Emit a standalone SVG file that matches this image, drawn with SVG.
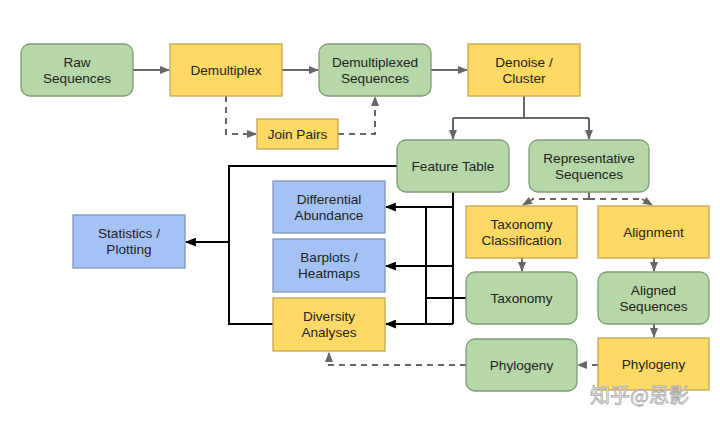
<svg xmlns="http://www.w3.org/2000/svg" width="720" height="426" viewBox="0 0 720 426">
<defs>
<style>
text{font-family:"Liberation Sans",Arial,sans-serif;font-size:13.6px;fill:#222;text-anchor:middle}
.g{fill:#b6d7a8;stroke:#7f9b73;stroke-width:1.3}
.y{fill:#ffd966;stroke:#c4a54e;stroke-width:1.3}
.b{fill:#a4c2f4;stroke:#7f95bc;stroke-width:1.3}
.gl{fill:none;stroke:#666;stroke-width:2}
.gd{fill:none;stroke:#666;stroke-width:2;stroke-dasharray:6,5}
.bl{fill:none;stroke:#000;stroke-width:2}
.wm{font-family:"Noto Sans CJK SC",sans-serif;font-size:20px;fill:#fff;stroke:#aaa;stroke-width:0.8;text-anchor:start}
</style>
<marker id="ag" viewBox="0 0 10 8" refX="9" refY="4" markerWidth="10" markerHeight="8" orient="auto" markerUnits="userSpaceOnUse"><path d="M0,0L10,4L0,8z" fill="#666"/></marker>
<marker id="ab" viewBox="0 0 10 8" refX="9" refY="4" markerWidth="11" markerHeight="9" orient="auto" markerUnits="userSpaceOnUse"><path d="M0,0L10,4L0,8z" fill="#000"/></marker>
</defs>
<rect width="720" height="426" fill="#fff"/>
<g id="connectors">
<path class="gl" d="M133,70H169" marker-end="url(#ag)"/>
<path class="gl" d="M282,70H318" marker-end="url(#ag)"/>
<path class="gl" d="M431,70H467" marker-end="url(#ag)"/>
<path class="gd" d="M226,96V134H256" marker-end="url(#ag)"/>
<path class="gd" d="M338,134H375V97" marker-end="url(#ag)"/>
<path class="gl" d="M524,96V118"/>
<path class="gl" d="M453,118H589"/>
<path class="gl" d="M453,118V139" marker-end="url(#ag)"/>
<path class="gl" d="M589,118V139" marker-end="url(#ag)"/>
<path class="gd" d="M589,192V199"/>
<path class="gd" d="M589,199H532"/>
<path class="gd" d="M589,199H643"/>
<path class="gl" d="M533,199L523,205" marker-end="url(#ag)"/>
<path class="gl" d="M642,199L652,205" marker-end="url(#ag)"/>
<path class="gl" d="M522,258V271" marker-end="url(#ag)"/>
<path class="gl" d="M654,258V271" marker-end="url(#ag)"/>
<path class="gl" d="M654,324V337" marker-end="url(#ag)"/>
<path class="gd" d="M598,365H578" marker-end="url(#ag)"/>
<path class="gd" d="M466,365H329V353" marker-end="url(#ag)"/>
<path class="bl" d="M397,166H229V324H273"/>
<path class="bl" d="M229,242H186" marker-end="url(#ab)"/>
<path class="bl" d="M453,192V324"/>
<path class="bl" d="M466,298H426"/>
<path class="bl" d="M426,207V324"/>
<path class="bl" d="M453,207H386" marker-end="url(#ab)"/>
<path class="bl" d="M453,266H386" marker-end="url(#ab)"/>
<path class="bl" d="M453,324H386" marker-end="url(#ab)"/>
</g>
<g id="raw"><rect class="g" x="21" y="44" width="112" height="52" rx="9"/><text x="77" y="67">Raw</text><text x="77" y="83">Sequences</text></g>
<g id="demux"><rect class="y" x="170" y="44" width="112" height="52"/><text x="226" y="75">Demultiplex</text></g>
<g id="demuxseq"><rect class="g" x="319" y="44" width="112" height="52" rx="9"/><text x="375" y="67">Demultiplexed</text><text x="375" y="83">Sequences</text></g>
<g id="denoise"><rect class="y" x="468" y="44" width="112" height="52"/><text x="524" y="67">Denoise /</text><text x="524" y="83">Cluster</text></g>
<g id="joinpairs"><rect class="y" x="257" y="119" width="81" height="30"/><text x="297.5" y="139">Join Pairs</text></g>
<g id="featuretable"><rect class="g" x="397" y="140" width="112" height="52" rx="9"/><text x="453" y="171">Feature Table</text></g>
<g id="repseq"><rect class="g" x="529" y="140" width="120" height="52" rx="9"/><text x="589" y="163">Representative</text><text x="589" y="179">Sequences</text></g>
<g id="taxclass"><rect class="y" x="466" y="206" width="111" height="52"/><text x="521.5" y="229">Taxonomy</text><text x="521.5" y="245">Classification</text></g>
<g id="alignment"><rect class="y" x="598" y="206" width="111" height="52"/><text x="653.5" y="237">Alignment</text></g>
<g id="taxonomy"><rect class="g" x="466" y="272" width="111" height="52" rx="9"/><text x="521.5" y="303">Taxonomy</text></g>
<g id="alignedseq"><rect class="g" x="598" y="272" width="111" height="52" rx="9"/><text x="653.5" y="295">Aligned</text><text x="653.5" y="311">Sequences</text></g>
<g id="phylogeny-green"><rect class="g" x="466" y="339" width="111" height="52" rx="9"/><text x="521.5" y="370">Phylogeny</text></g>
<g id="phylogeny-yellow"><rect class="y" x="598" y="338" width="111" height="52"/><text x="653.5" y="369">Phylogeny</text></g>
<g id="diffabund"><rect class="b" x="273" y="181" width="112" height="52"/><text x="329" y="204">Differential</text><text x="329" y="220">Abundance</text></g>
<g id="barplots"><rect class="b" x="273" y="239" width="112" height="53"/><text x="329" y="262">Barplots /</text><text x="329" y="278">Heatmaps</text></g>
<g id="diversity"><rect class="y" x="273" y="298" width="112" height="53"/><text x="329" y="321">Diversity</text><text x="329" y="337">Analyses</text></g>
<g id="stats"><rect class="b" x="73" y="215" width="112" height="53"/><text x="129" y="238">Statistics /</text><text x="129" y="254">Plotting</text></g>
<text class="wm" x="590" y="403">知乎@思影</text>
</svg>
